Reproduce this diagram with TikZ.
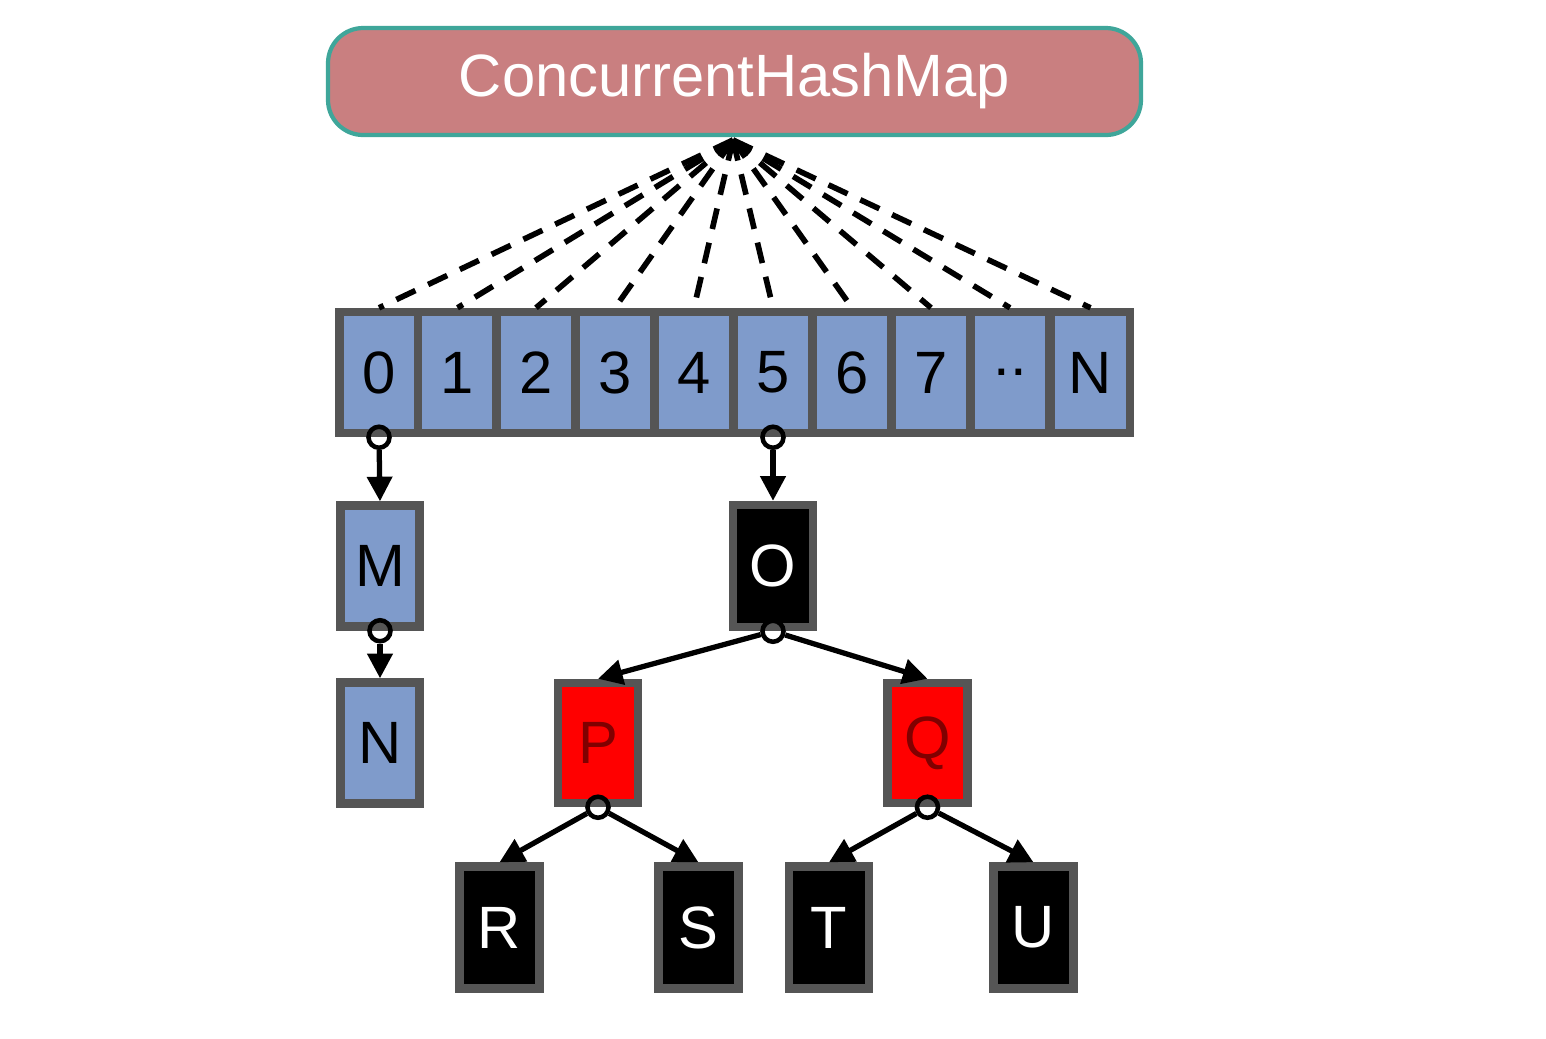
\documentclass[tikz,border=0pt]{standalone}
\usepackage{fontspec}
\setmainfont{Liberation Sans}
\usetikzlibrary{positioning,arrows.meta}
\definecolor{mapred}{HTML}{C97F80}
\definecolor{mapedge}{HTML}{3FA69A}
\definecolor{cellblue}{HTML}{7F9BCB}
\definecolor{celledge}{HTML}{555555}
\tikzset{cell/.style={rectangle,draw=celledge,line width=2.4pt,fill=cellblue,
minimum width=0.79cm,minimum height=1.21cm,inner sep=0pt,font=\fontsize{17}{17}\selectfont},
blk/.style={cell,fill=black,text=white,minimum width=0.80cm,minimum height=1.22cm},
rd/.style={cell,fill=red,text=red!50!black,minimum width=0.80cm,minimum height=1.20cm},
ring/.style={circle,draw=black,line width=1.3pt,fill=none,minimum size=0.21cm,inner sep=0pt},
link/.style={-{Triangle[length=7pt,width=7pt]},line width=1.5pt},
hash/.style={dashed,line width=1.6pt,dash pattern=on 6pt off 4pt},
>={Triangle}}
\begin{document}
\begin{tikzpicture}[x=1cm,y=1cm]
  \useasboundingbox (0,0) rectangle (15.46,-10.38);
  \node (map) [rectangle,rounded corners=10pt,draw=mapedge,line width=1.2pt,fill=mapred,
    minimum width=8.13cm,minimum height=1.07cm,text=white,font=\fontsize{17}{17}\selectfont]
    at (7.345,-0.815) {ConcurrentHashMap};
  \coordinate (hub) at (7.33,-1.40);

  % bucket array
  \foreach \i/\t/\x in {0/0/3.79,1/1/4.575,2/2/5.36,3/3/6.15,4/4/6.94,
                        5/5/7.73,6/6/8.52,7/7/9.31,8/../10.10,9/N/10.905}
    \node (b\i) [cell] at (\x,-3.725) {\t};
  \foreach \i in {0,...,9}
    \draw [hash] (hub) -- (b\i.north);

  % list on bucket 0
  \node (m) [cell] at (3.80,-5.66) {M};
  \node (n) [cell] at (3.80,-7.43) {N};
  % tree on bucket 5
  \node (o) [blk] at (7.73,-5.66) {O};
  \node (p) [rd] at (5.98,-7.43) {P};
  \node (q) [rd] at (9.275,-7.43) {Q};
  \node (r) [blk] at (4.995,-9.275) {R};
  \node (s) [blk] at (6.985,-9.275) {S};
  \node (t) [blk] at (8.29,-9.275) {T};
  \node (u) [blk] at (10.335,-9.275) {U};

  \node (c0) [ring] at (b0.south) {};
  \node (c5) [ring] at (b5.south) {};
  \node (cm) [ring] at (m.south) {};
  \node (co) [ring] at (o.south) {};
  \node (cp) [ring] at (p.south) {};
  \node (cq) [ring] at (q.south) {};

  \draw [link] (c0) -- (m.north);
  \draw [link] (cm) -- (n.north);
  \draw [link] (c5) -- (o.north);
  \draw [link] (co) -- (p.north);
  \draw [link] (co) -- (q.north);
  \draw [link] (cp) -- (r.north);
  \draw [link] (cp) -- (s.north);
  \draw [link] (cq) -- (t.north);
  \draw [link] (cq) -- (u.north);
\end{tikzpicture}
\end{document}
